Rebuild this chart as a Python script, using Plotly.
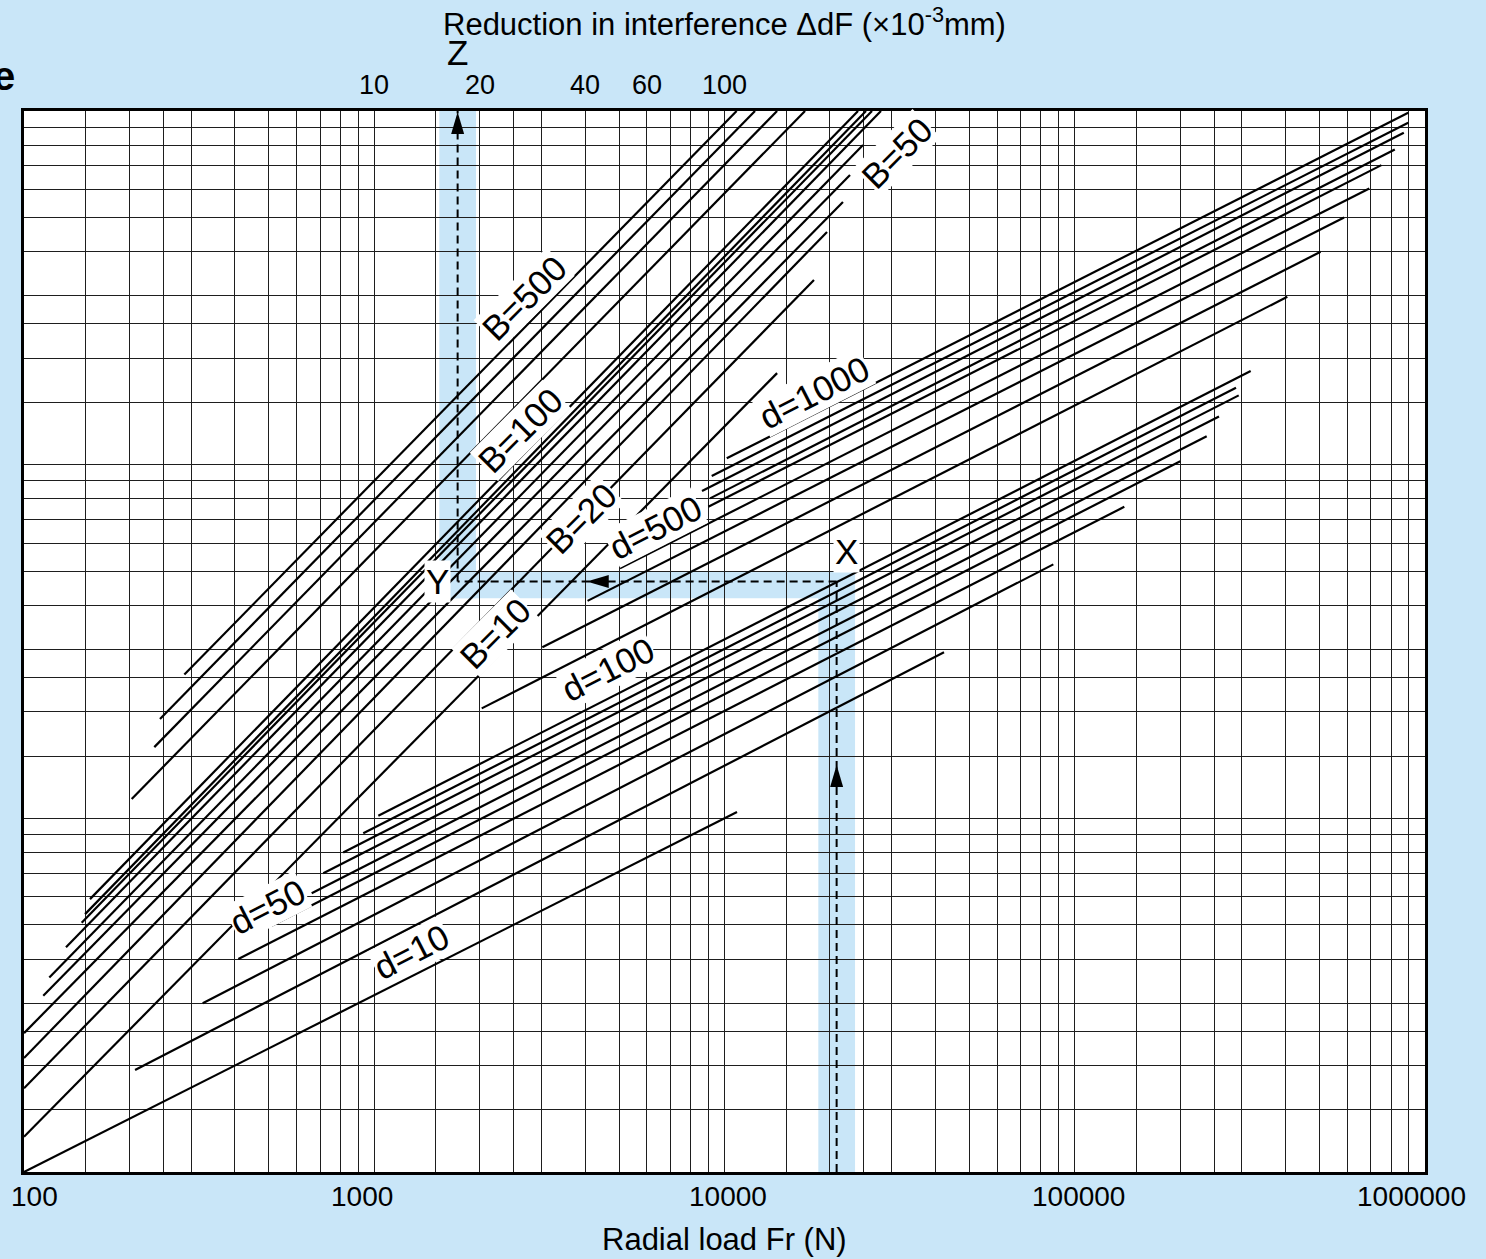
import numpy as np
import plotly.graph_objects as go

# ---------------- data ----------------
# Bottom axis: radial load Fr (N); vertical axis: unlabeled intermediate scale of the nomograph.
# Top axis: reduction in interference dF (x10^-3 mm)

# B lines (bearing width B) - steep family: start / end points
B_values   = [500, 400, 300, 200, 100, 90, 80, 70, 60, 50, 40, 30, 20, 10]
B_fr_start = [287, 244.5, 235.5, 203, 154.3, 149.4, 146.1, 131.8, 118.1, 113.5, 100, 100, 100, 100]
B_y_start  = [25.5, 19.1, 15.9, 11.34, 5.91, 5.36, 5.07, 4.32, 3.55, 3.15, 2.47, 2.10, 1.725, 1.258]
B_fr_end   = [10830, 12220, 14130, 16980, 24060, 25350, 26370, 27970, 24860, 22820, 21790, 19620, 18010, 14130]
B_y_end    = [1000, 1000, 1000, 1000, 1000, 1000, 1000, 1000, 801, 659, 553, 455, 333, 181.5]

# d lines (bore diameter d) - shallow family: start / end points
d_values   = [10, 20, 30, 40, 50, 60, 70, 80, 90, 100, 200, 300, 400, 500, 600, 700, 800, 900, 1000]
d_fr_start = [100, 207.5, 323.7, 409.2, 509.5, 662.7, 715.3, 815.5, 930.4, 1027,
              2027, 3019, 4064, 5030, 8991, 9093, 8627, 9194, 10150]
d_y_start  = [1.0, 1.943, 3.0, 4.0, 4.97, 6.14, 6.99, 8.01, 9.07, 10.17,
              20.46, 30.45, 41.2, 50.9, 76.0, 80.3, 84.2, 92.9, 104.2]
d_fr_end   = [10856, 42340, 86860, 138500, 200100, 238100, 258100, 293900, 288700, 317900,
              404500, 503400, 587500, 693400, 750700, 820000, 869900, 895300, 895300]
d_y_end    = [10.42, 29.47, 52.25, 76.0, 102.2, 120.4, 136.9, 157.0, 165.0, 183.9,
              298.3, 399.9, 500, 604, 703, 778.7, 867.7, 926, 988]

# worked example X -> Y -> Z
example_Fr = 20900      # X : radial load (N)
example_level = 46.7    # level on the intermediate scale
example_dF = 17.3       # Z : reduction in interference (x10^-3 mm)

# tick labels
Fr_ticks = [100, 1000, 10000, 100000, 1000000]
dF_ticks = [10, 20, 40, 60, 100]
grid_mult = [1, 1.5, 2, 2.5, 3, 4, 5, 6, 7, 8, 9]

# ---------------- styling ----------------
BG = "#c9e6f8"
FONT = "Liberation Sans, Arial, Helvetica, sans-serif"
AXIS_SHIFT = 100  # dF scale (top) = Fr scale (bottom) / 100

fig = go.Figure()

def add_seg(x, y, xaxis="x", dash=None, width=2.2):
    fig.add_trace(go.Scatter(x=x, y=y, mode="lines", xaxis=xaxis, yaxis="y",
                             line=dict(color="black", width=width, dash=dash),
                             hoverinfo="skip", showlegend=False))

for i in range(len(B_values)):
    add_seg([B_fr_start[i], B_fr_end[i]], [B_y_start[i], B_y_end[i]])
for i in range(len(d_values)):
    add_seg([d_fr_start[i], d_fr_end[i]], [d_y_start[i], d_y_end[i]])

# worked example dashed path
DASH = "8px,5px"
add_seg([example_Fr, example_Fr], [1, example_level], dash=DASH, width=2)
add_seg([example_Fr, example_dF * AXIS_SHIFT], [example_level, example_level], dash=DASH, width=2)
add_seg([example_dF, example_dF], [example_level, 1000], xaxis="x2", dash=DASH, width=2)

# highlight bands (below grid)
band = dict(type="rect", layer="below", fillcolor=BG, line=dict(width=0), xref="x", yref="y")
fig.add_shape(**band, x0=1534, x1=1952, y0=41.88, y1=1000)
fig.add_shape(**band, x0=1534, x1=23590, y0=41.88, y1=49.8)
fig.add_shape(**band, x0=18530, x1=23590, y0=1, y1=49.8)

# arrowheads (pixel-sized paths anchored on the example path)
arrow = dict(type="path", layer="above", fillcolor="black", line=dict(width=0),
             xsizemode="pixel", ysizemode="pixel")
fig.add_shape(**arrow, xref="x2", yref="y", xanchor=example_dF, yanchor=1000,
              path="M0,-1 L-6.5,-23 L6.5,-23 Z")
fig.add_shape(**arrow, xref="x", yref="y", xanchor=4043, yanchor=example_level,
              path="M0,0 L22,6.5 L22,-6.5 Z")
fig.add_shape(**arrow, xref="x", yref="y", xanchor=example_Fr, yanchor=14.15,
              path="M0,0 L-6.5,-22 L6.5,-22 Z")

# ---------------- axes ----------------
grid_x = [m * 10 ** k for k in range(2, 6) for m in grid_mult] + [1e6]
grid_y = [m * 10 ** k for k in range(0, 3) for m in grid_mult] + [1000]

fig.update_layout(
    width=1486, height=1259,
    margin=dict(l=24, r=61, t=111, b=87),
    paper_bgcolor=BG, plot_bgcolor="white",
    font=dict(family=FONT, color="black"),
    showlegend=False,
    xaxis=dict(type="log", range=[2, 6], tickvals=grid_x, showticklabels=False, ticks="",
               showgrid=True, gridcolor="#1e1e1e", gridwidth=1, zeroline=False,
               showline=True, linecolor="black", linewidth=3, mirror=True),
    xaxis2=dict(type="log", range=[0, 4], overlaying="x", side="top", tickvals=dF_ticks,
                showticklabels=False, ticks="", showgrid=False, zeroline=False, showline=False),
    yaxis=dict(type="log", range=[0, 3], tickvals=grid_y, showticklabels=False, ticks="",
               showgrid=True, gridcolor="#1e1e1e", gridwidth=1, zeroline=False,
               showline=True, linecolor="black", linewidth=3, mirror=True),
)

ann = []
# bottom tick labels
for v, sh in zip(Fr_ticks, [10, -12, 3, 4, -14]):
    ann.append(dict(x=np.log10(v), xref="x", y=0, yref="paper", yanchor="middle", xanchor="center",
                    yshift=-24, xshift=sh, text=str(v), showarrow=False, font=dict(size=28)))
# top tick labels
for v in dF_ticks:
    ann.append(dict(x=np.log10(v), xref="x2", y=1, yref="paper", yanchor="middle", xanchor="center",
                    yshift=26, text=str(v), showarrow=False, font=dict(size=27)))
# titles
ann.append(dict(x=0.5, xref="paper", y=1, yref="paper", yshift=89, yanchor="middle",
                text="Reduction in interference \u0394dF (\u00d710<sup>-3</sup>mm)",
                showarrow=False, font=dict(size=31)))
ann.append(dict(x=0.5, xref="paper", y=0, yref="paper", yshift=-67, yanchor="middle",
                text="Radial load Fr (N)", showarrow=False, font=dict(size=31)))
ann.append(dict(x=-0.005, xref="paper", xanchor="right", y=1, yref="paper", yshift=35,
                yanchor="middle", text="<b>e</b>", showarrow=False, font=dict(size=40)))
# Z label
ann.append(dict(x=np.log10(example_dF), xref="x2", y=1, yref="paper", yshift=59, yanchor="middle",
                text="Z", showarrow=False, font=dict(size=35)))

# line labels (text, Fr position, level position, angle)
labels = [
    ("B=500", 2668, 295.8, -45), ("B=100", 2607, 125.2, -45), ("B=50", 31080, 765.3, -45),
    ("B=20", 3893, 70.4, -45), ("B=10", 2212, 33.3, -45),
    ("d=1000", 18010, 160.4, -27), ("d=500", 6333, 66.6, -27), ("d=100", 4634, 26.3, -27),
    ("d=50", 497.2, 5.63, -27), ("d=10", 1279, 4.20, -27),
]
for t, fx, fy, ang in labels:
    ann.append(dict(x=np.log10(fx), y=np.log10(fy), xref="x", yref="y", text=t, textangle=ang,
                    showarrow=False, bgcolor="white", borderpad=0, font=dict(size=35)))
for t, fx, fy in [("X", 22230, 57.0), ("Y", 1511, 46.6)]:
    ann.append(dict(x=np.log10(fx), y=np.log10(fy), xref="x", yref="y", text=t,
                    showarrow=False, bgcolor="white", borderpad=1, font=dict(size=35)))

fig.update_layout(annotations=ann)
fig.write_html("out.html", config={"displayModeBar": False},
               post_script="document.body.style.margin='0';document.body.style.overflow='hidden';")
